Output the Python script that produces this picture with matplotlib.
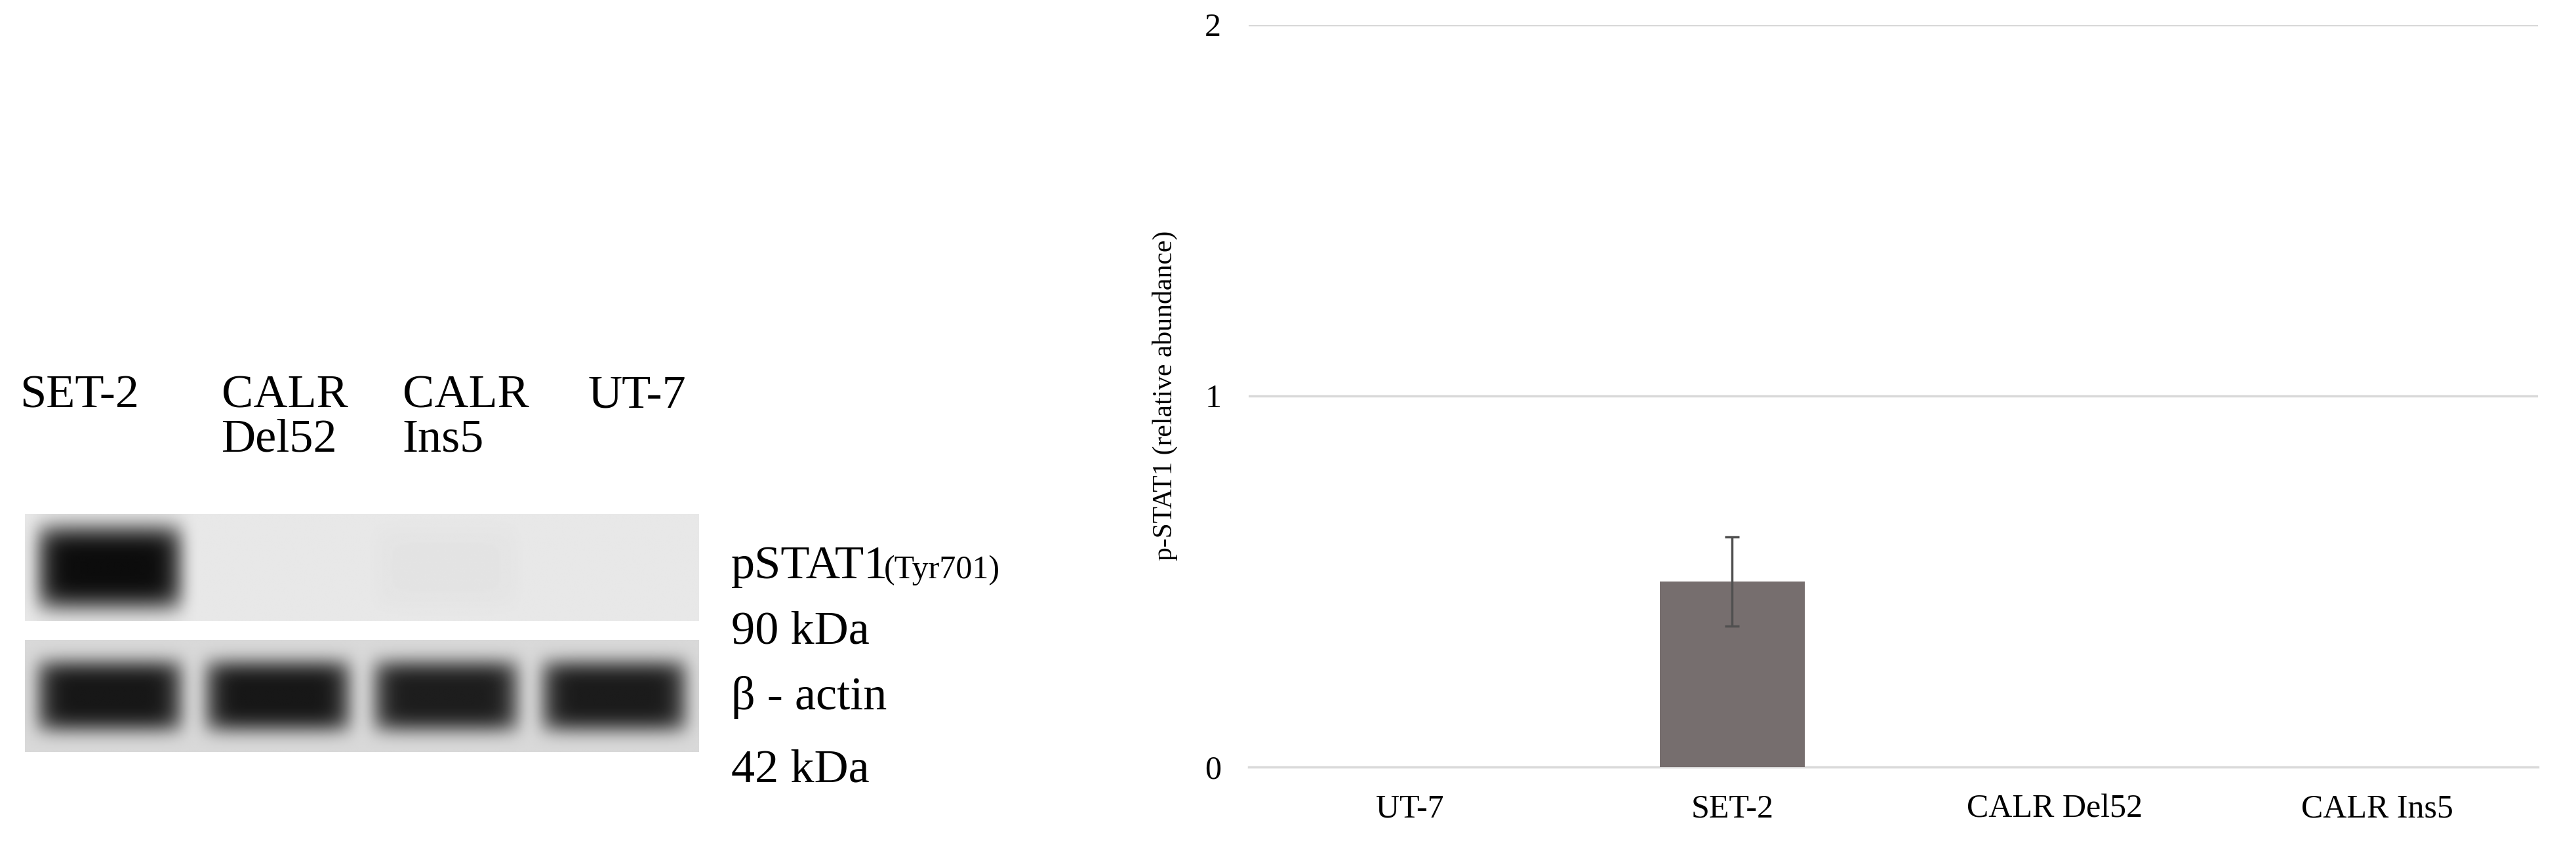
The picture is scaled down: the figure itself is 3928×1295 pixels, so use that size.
import numpy as np
import matplotlib.pyplot as plt

plt.rcParams['font.family'] = ['Liberation Serif', 'DejaVu Serif']

# bar chart data
categories = ["UT-7", "SET-2", "CALR Del52", "CALR Ins5"]
values = [0, 0.5, 0, 0]
errors = [0, 0.12, 0, 0]

# blot data: relative band intensity per lane (SET-2, CALR Del52, CALR Ins5, UT-7)
lanes = ["SET-2", "CALR\nDel52", "CALR\nIns5", "UT-7"]
pstat1_bands = [1.0, 0.0, 0.02, 0.0]
actin_bands = [0.95, 0.95, 0.92, 0.93]

fig = plt.figure(figsize=(39.28, 12.95), dpi=100)

# ---- left: western blot (axes in display-pixel units of the reference)
ax0 = fig.add_axes([0, 0, 480 / 1568, 1])
ax0.set_xlim(0, 480)
ax0.set_ylim(517, 0)
ax0.axis('off')


def blot(intensities, bg, x0, x1, y0, y1, height):
    w, h = 400, 70
    xx, yy = np.meshgrid(np.linspace(0, 4, w), np.linspace(-1, 1, h))
    img = np.full((h, w), bg)
    for i, a in enumerate(intensities):
        c = i + 0.5
        lane = np.exp(-((xx - c) / 0.43) ** 8)
        band = np.exp(-(yy / height) ** 4)
        img -= a * lane * band * (bg - 0.05)
    ax0.imshow(img, cmap='gray', vmin=0, vmax=1, extent=[x0, x1, y1, y0],
               aspect='auto', interpolation='bilinear')


blot(pstat1_bands, 0.91, 15, 425, 313, 378, 0.8)
blot(actin_bands, 0.85, 15, 425, 390, 458, 0.65)

lane_x = [12, 135, 245, 358]
for x, name in zip(lane_x, lanes):
    ax0.text(x, 228, name, fontsize=52, va='top', ha='left', linespacing=1.05)

ax0.text(445, 352, "pSTAT1", fontsize=52, va='baseline')
ax0.text(538, 352, "(Tyr701)", fontsize=36, va='baseline')
ax0.text(445, 392, "90 kDa", fontsize=52, va='baseline')
ax0.text(445, 432, "β - actin", fontsize=52, va='baseline')
ax0.text(445, 476, "42 kDa", fontsize=52, va='baseline')

# ---- right: bar chart
ax = fig.add_axes([760 / 1568, 1 - 467 / 517, 785 / 1568, 452 / 517])
x = np.arange(len(categories))
ax.bar(x, values, width=0.45, color='#766e6e', zorder=3)
err = np.array(errors)
has = err > 0
ax.errorbar(x[has], np.array(values)[has], yerr=err[has], fmt='none',
            ecolor='#505050', elinewidth=2.5, capsize=8, capthick=2.5, zorder=4)
ax.set_xlim(-0.5, len(categories) - 0.5)
ax.set_ylim(0, 2)
ax.set_yticks([0, 1, 2])
ax.yaxis.grid(True, color='#d9d9d9', linewidth=2.5)
ax.set_axisbelow(True)
for s in ['top', 'right', 'left']:
    ax.spines[s].set_visible(False)
ax.spines['bottom'].set_color('#d9d9d9')
ax.spines['bottom'].set_linewidth(2.5)
ax.tick_params(length=0, labelsize=36, pad=30)
ax.set_xticks(x)
ax.set_xticklabels(categories)
ax.set_ylabel("p-STAT1 (relative abundance)", fontsize=30, labelpad=30)

fig.savefig('out.png', dpi=100)
